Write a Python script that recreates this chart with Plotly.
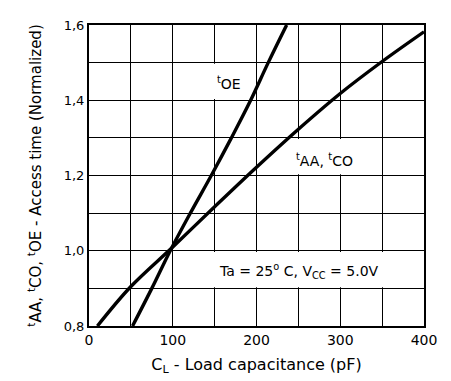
import plotly.graph_objects as go

# Data
cl_toe = [52, 75, 97, 121, 146, 170, 193, 214, 236]
t_oe = [0.80, 0.90, 1.00, 1.10, 1.20, 1.30, 1.40, 1.50, 1.60]

cl_taa = [10, 50, 100, 150, 200, 250, 300, 350, 400]
t_aa = [0.80, 0.905, 1.01, 1.117, 1.222, 1.323, 1.418, 1.503, 1.582]

x_ticks = [0, 50, 100, 150, 200, 250, 300, 350, 400]
x_labels = ["0", "", "100", "", "200", "", "300", "", "400"]
y_ticks = [0.8, 0.9, 1.0, 1.1, 1.2, 1.3, 1.4, 1.5, 1.6]
y_labels = ["0,8", "", "1,0", "", "1,2", "", "1,4", "", "1,6"]

FONT = "DejaVu Sans"

fig = go.Figure()
line = dict(color="black", width=3.4, shape="spline", smoothing=1.0)
fig.add_trace(go.Scatter(x=cl_toe, y=t_oe, mode="lines", line=line, showlegend=False, hoverinfo="skip"))
fig.add_trace(go.Scatter(x=cl_taa, y=t_aa, mode="lines", line=line, showlegend=False, hoverinfo="skip"))

# white label boxes covering grid cells
for x0, x1, y0, y1 in [(142, 197, 1.403, 1.497), (240, 347, 1.203, 1.297), (142, 360, 0.903, 0.997)]:
    fig.add_shape(type="rect", x0=x0, x1=x1, y0=y0, y1=y1, xref="x", yref="y",
                  fillcolor="white", line=dict(width=0), layer="between")

ann_font = dict(family=FONT, size=14, color="black")
fig.add_annotation(x=167, y=1.445, text="<sup>t</sup>OE", showarrow=False, font=ann_font)
fig.add_annotation(x=281, y=1.24, text="<sup>t</sup>AA, <sup>t</sup>CO", showarrow=False, font=ann_font)
fig.add_annotation(x=251, y=0.945, text="Ta = 25<sup>o</sup> C, V<sub>CC</sub> = 5.0V", showarrow=False, font=ann_font)

fig.update_xaxes(range=[0, 400], tickvals=x_ticks, ticktext=x_labels, showgrid=True,
                 gridcolor="black", gridwidth=1, showline=True, linecolor="black", linewidth=2,
                 mirror=True, ticks="", zeroline=False, automargin=False,
                 tickfont=dict(family=FONT, size=14, color="black"),
                 title=dict(text="C<sub>L</sub> - Load capacitance (pF)",
                            font=dict(family=FONT, size=16, color="black"), standoff=12))
fig.update_yaxes(range=[0.8, 1.6], tickvals=y_ticks, ticktext=y_labels, showgrid=True,
                 gridcolor="black", gridwidth=1, showline=True, linecolor="black", linewidth=2,
                 mirror=True, ticks="", zeroline=False, automargin=False,
                 tickfont=dict(family=FONT, size=13, color="black"),
                 title=dict(text="<sup>t</sup>AA, <sup>t</sup>CO, <sup>t</sup>OE - Access time (Normalized)",
                            font=dict(family=FONT, size=15, color="black"), standoff=18))

fig.update_layout(width=451, height=381, margin=dict(l=89, r=27, t=25, b=55),
                  plot_bgcolor="white", paper_bgcolor="white")

fig.write_html("out.html", config={"displayModeBar": False},
               post_script="document.body.style.margin='0';document.body.style.overflow='hidden';")
